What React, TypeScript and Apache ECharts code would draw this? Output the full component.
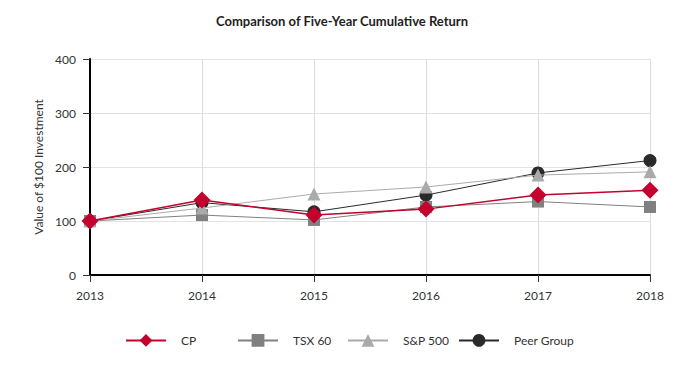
import React, { useEffect, useRef } from "react";
import * as echarts from "echarts";

const years = ["2013", "2014", "2015", "2016", "2017", "2018"];
const cp = [100, 139, 111, 122, 148, 157];
const tsx60 = [100, 111, 102, 126, 136, 126];
const sp500 = [100, 124, 150, 163, 185, 191];
const peer = [100, 134, 117, 148, 189, 212];
const yTicks = [0, 100, 200, 300, 400];

const FONT = "Lato, 'Liberation Sans Narrow', sans-serif";

export default function App() {
  const ref = useRef<HTMLDivElement>(null);
  useEffect(() => {
    document.body.style.margin = "0";
    if (!ref.current) return;
    const chart = echarts.init(ref.current, undefined, { renderer: "svg" });
    const mk = (name: string, data: number[], color: string, symbol: string, size: number, width: number, z: number) => ({
      name,
      type: "line",
      data,
      symbol,
      symbolSize: size,
      z,
      lineStyle: { color, width },
      itemStyle: { color },
    });
    const legendAt = (name: string, left: number) => ({
      data: [name],
      left,
      top: 329,
      itemWidth: 40,
      itemHeight: 16,
      textStyle: { fontFamily: FONT, fontSize: 12, color: "#333", padding: [0, 0, 0, 10] },
    });
    chart.setOption({
      animation: false,
      title: {
        text: "Comparison of Five-Year Cumulative Return",
        left: "center",
        top: 9,
        textStyle: { fontFamily: FONT, fontSize: 13, fontWeight: "bold", color: "#222" },
      },
      legend: [
        legendAt("CP", 120),
        legendAt("TSX 60", 232),
        legendAt("S&P 500", 342),
        legendAt("Peer Group", 453),
      ],
      grid: { left: 90, right: 34, top: 59, bottom: 102 },
      xAxis: {
        type: "category",
        data: years,
        boundaryGap: false,
        axisLine: { lineStyle: { color: "#000", width: 2 } },
        axisTick: { show: true, length: 7, lineStyle: { color: "#333" } },
        axisLabel: { fontFamily: FONT, fontSize: 12, color: "#333", margin: 14 },
        splitLine: { show: true, lineStyle: { color: "#ddd" } },
      },
      yAxis: {
        type: "value",
        min: 0,
        max: 400,
        interval: 100,
        name: "Value of $100 Investment",
        nameLocation: "middle",
        nameGap: 46,
        nameTextStyle: { fontFamily: FONT, fontSize: 12, color: "#333" },
        axisLine: { show: true, lineStyle: { color: "#000", width: 2 } },
        axisTick: { show: true, length: 7, lineStyle: { color: "#333" } },
        axisLabel: {
          fontFamily: FONT,
          fontSize: 12,
          color: "#333",
          margin: 14,
          formatter: (v: number) => (yTicks.includes(v) ? String(v) : ""),
        },
        splitLine: { show: true, lineStyle: { color: "#e3e3e3" } },
      },
      series: [
        mk("CP", cp, "#c4002f", "diamond", 17, 1.5, 5),
        mk("TSX 60", tsx60, "#808080", "rect", 12, 1, 3),
        mk("S&P 500", sp500, "#aaaaaa", "triangle", 13, 1, 4),
        mk("Peer Group", peer, "#2a2a2a", "circle", 13, 1, 2),
      ],
    });
    return () => chart.dispose();
  }, []);
  return <div ref={ref} style={{ width: 684, height: 377 }} />;
}
